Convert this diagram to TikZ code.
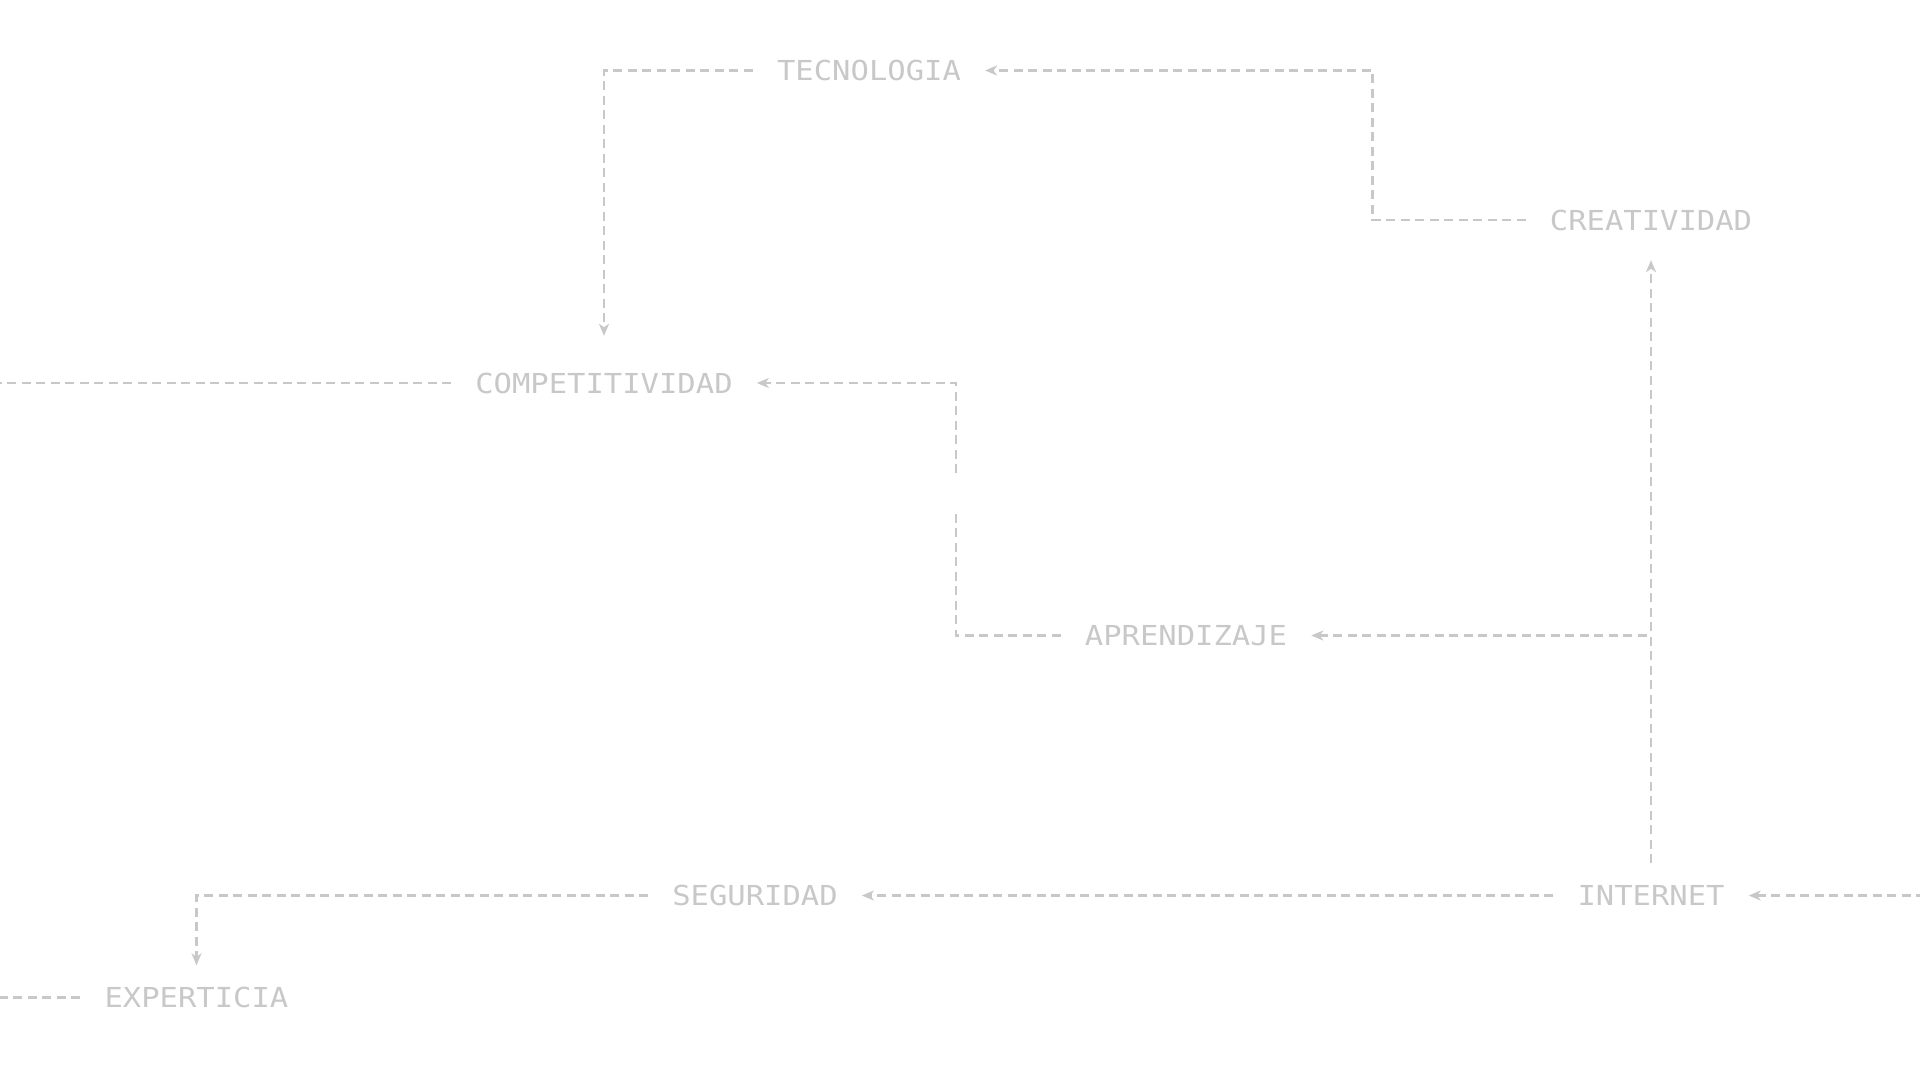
\documentclass[tikz,border=0pt]{standalone}
\usepackage{fontspec}
\usepackage{tikz}
\usetikzlibrary{arrows.meta,positioning,calc}

\newfontfamily\termfont{DejaVu Sans Mono}[FakeStretch=1.11]
\definecolor{linegray}{RGB}{200,200,200}

\begin{document}
\begin{tikzpicture}[
    x=1pt, y=-1pt,
    term/.style={font=\termfont\fontsize{27.5}{30}\selectfont, text=linegray,
      text height=20pt, text depth=0pt, inner xsep=24pt, inner ysep=22pt},
    link/.style={draw=linegray, line width=2.6pt, dash pattern=on 9pt off 5.5pt},
    tip/.style={-{Stealth[length=12pt,width=10pt,inset=3.5pt]}},
]
\useasboundingbox (0,0) rectangle (1920,1080);

  % terminos
  \node[term] (tec)  at (869,70.5)  {TECNOLOGIA};
  \node[term] (crea) at (1651,220)  {CREATIVIDAD};
  \node[term] (comp) at (604,383)   {COMPETITIVIDAD};
  \node[term] (apr)  at (1186,635.5) {APRENDIZAJE};
  \node[term] (seg)  at (755,895.5) {SEGURIDAD};
  \node[term] (inet) at (1651,895.5)  {INTERNET};
  \node[term] (exp)  at (196.5,997.5) {EXPERTICIA};

  % puntos libres
  \coordinate (brkA) at (956,510);
  \coordinate (brkB) at (956,473);
  \coordinate (redge) at (1925,895.5);
  \coordinate (ledgeA) at (-5,383);
  \coordinate (ledgeB) at (-5,997.5);

  % conexiones superiores
  \draw[link,tip,shorten >=15pt] (tec.west) -| (comp.north);
  \draw[link,tip] (crea.west) -- ++(-153,0) |- (tec.east);
  \draw[link,tip,shorten >=8pt] (inet.north) -- (crea.south);
  \draw[link,tip] (inet.north) |- (apr.east);
  \draw[link] (apr.west) -| (brkA);
  \draw[link,tip] (brkB) |- (comp.east);
  \draw[link] (comp.west) -- (ledgeA);

  % conexiones inferiores
  \draw[link,tip] (redge) -- (inet.east);
  \draw[link,tip] (inet.west) -- (seg.east);
  \draw[link,tip] (seg.west) -| (exp.north);
  \draw[link] (exp.west) -- (ledgeB);
\end{tikzpicture}
\end{document}
